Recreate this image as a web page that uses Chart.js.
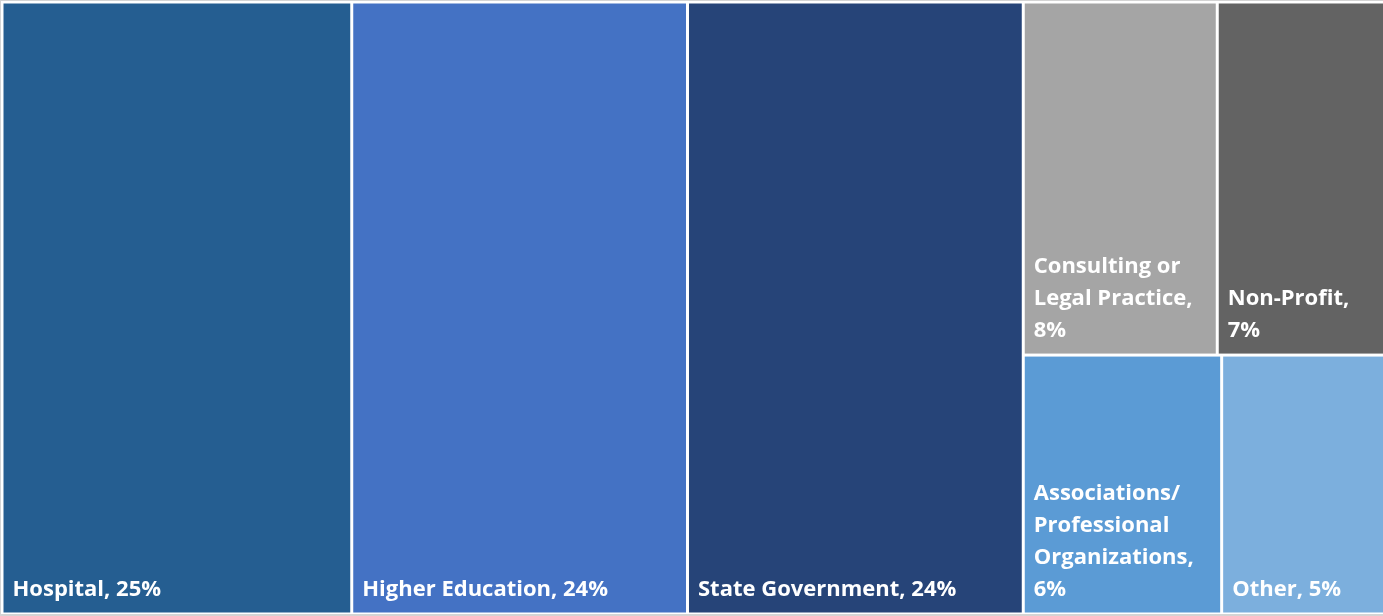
<!DOCTYPE html>
<html>
<head>
<meta charset="utf-8">
<script src="https://cdn.jsdelivr.net/npm/chart.js@4/dist/chart.umd.min.js"></script>
<style>
  html, body { margin: 0; padding: 0; background: #fff; overflow: hidden; }
  #wrap {
    position: absolute; left: 0; top: 0;
    width: 1383px; height: 616px; overflow: hidden;
    box-sizing: border-box;
    border-left: 1px solid #d4d4d4; border-top: 1px solid #d4d4d4; border-bottom: 2px solid #d4d4d4;
  }
  #box { position: absolute; left: 0; top: 0; width: 1386px; height: 613px; }
</style>
</head>
<body>
<div id="wrap"><div id="box"><canvas id="tree"></canvas></div></div>
<script>
// Share of respondents by employer type (%)
const categories = ['Hospital', 'Higher Education', 'State Government',
  'Consulting or Legal Practice', 'Non-Profit',
  'Associations/ Professional Organizations', 'Other'];
const shares = [25, 24, 24, 8, 7, 6, 5];
const colors = ['#255e91', '#4472c4', '#264478', '#a5a5a5', '#636363', '#5b9bd5', '#7cafdd'];

// columns of the treemap; each column is a list of rows, each row a list of item indexes
const columns = [[[0]], [[1]], [[2]], [[3, 4], [5, 6]]];

const total = shares.reduce((a, b) => a + b, 0);

// lay the cells out in value units: x runs 0..total, y runs 0..1
function layoutCells() {
  const cells = [];
  let x0 = 0;
  columns.forEach(rows => {
    const colSum = rows.flat().reduce((s, i) => s + shares[i], 0);
    let y0 = 1;
    rows.forEach(row => {
      const rowSum = row.reduce((s, i) => s + shares[i], 0);
      const h = rowSum / colSum;
      let cx = x0;
      row.forEach(i => {
        const w = colSum * shares[i] / rowSum;
        cells.push({ i, x0: cx, x1: cx + w, y0: y0 - h, y1: y0 });
        cx += w;
      });
      y0 -= h;
    });
    x0 += colSum;
  });
  return cells;
}

function wrapText(ctx, text, maxW) {
  const tokens = text.match(/[^ \/]+\/?\s*|\s+/g);
  const lines = [];
  let cur = '';
  tokens.forEach(t => {
    const test = cur + t;
    if (cur && ctx.measureText(test.trimEnd()).width > maxW) {
      lines.push(cur.trimEnd());
      cur = t.trimStart();
    } else {
      cur = test;
    }
  });
  if (cur.trim()) lines.push(cur.trimEnd());
  return lines;
}

const treemapPlugin = {
  id: 'treemapCells',
  afterDatasetsDraw(chart) {
    const { ctx, scales: { x, y } } = chart;
    const gap = 1.5;
    ctx.save();
    layoutCells().forEach(c => {
      const left = x.getPixelForValue(c.x0) + gap;
      const right = x.getPixelForValue(c.x1) - gap;
      const top = y.getPixelForValue(c.y1) + gap;
      const bottom = y.getPixelForValue(c.y0) - gap;
      ctx.fillStyle = colors[c.i];
      ctx.fillRect(left, top, right - left, bottom - top);

      ctx.font = 'bold 22px "Open Sans", sans-serif';
      ctx.fillStyle = '#ffffff';
      ctx.textBaseline = 'alphabetic';
      ctx.textAlign = 'left';
      const lines = wrapText(ctx, categories[c.i] + ', ' + shares[c.i] + '%', right - left - 18);
      const lh = 32;
      lines.forEach((ln, k) => {
        ctx.fillText(ln, left + 9, bottom - 17 - (lines.length - 1 - k) * lh);
      });
    });
    ctx.restore();
  }
};

new Chart(document.getElementById('tree'), {
  type: 'scatter',
  data: {
    datasets: [{
      data: categories.map(() => ({ x: 0, y: 0 })),
      pointRadius: 0,
      pointHoverRadius: 0
    }]
  },
  options: {
    responsive: true,
    maintainAspectRatio: false,
    animation: false,
    events: [],
    layout: { padding: { left: 1, top: 1, right: 0, bottom: 0 } },
    scales: {
      x: { type: 'linear', min: 0, max: total, display: false },
      y: { type: 'linear', min: 0, max: 1, display: false }
    },
    plugins: { legend: { display: false }, tooltip: { enabled: false } }
  },
  plugins: [treemapPlugin]
});
</script>
</body>
</html>
